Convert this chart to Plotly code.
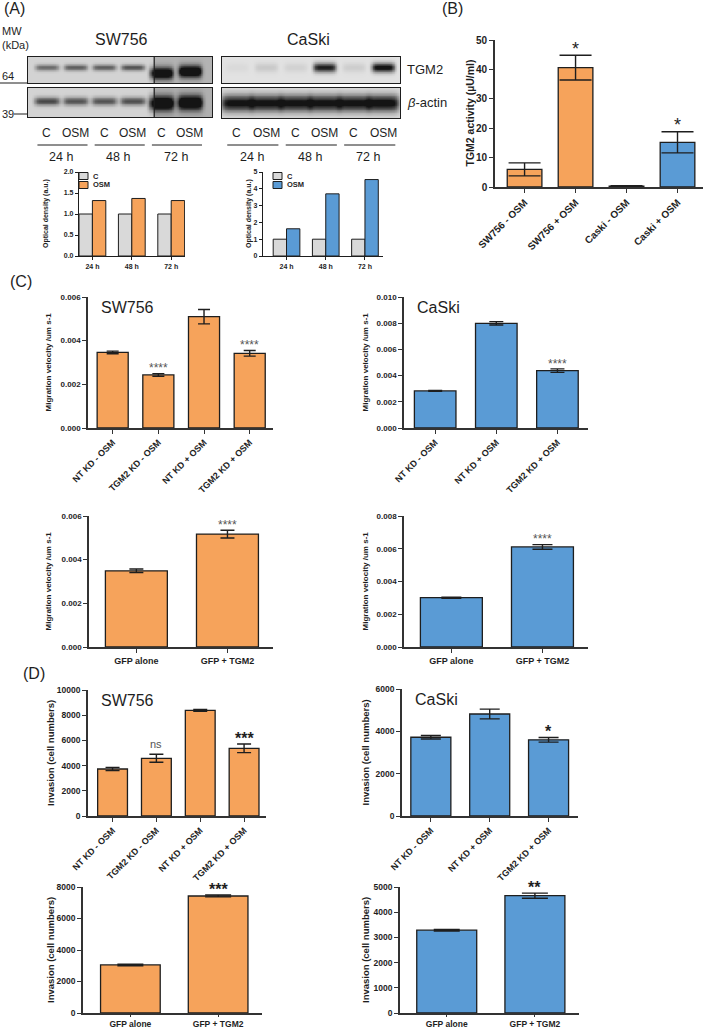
import numpy as np
import plotly.graph_objects as go

W, H = 704, 1029
ORANGE = "#F6A35B"
BLUE = "#5A9BD5"
GREY = "#D9D9D9"
INK = "#1E1E1E"
SOFT = "#555555"
FONT = "Liberation Sans, Arial, sans-serif"

# ---------------- data ----------------
lane_labels = ["C", "OSM", "C", "OSM", "C", "OSM"]
time_labels = ["24 h", "48 h", "72 h"]
# relative band darkness per lane (0 = blank, 1 = saturated)
sw_tgm2_band = [0.5, 0.55, 0.55, 0.6, 0.95, 1.0]
sw_actin_band = [0.65, 0.6, 0.6, 0.62, 1.0, 1.0]
ck_tgm2_band = [0.04, 0.12, 0.08, 0.9, 0.1, 1.0]
ck_actin_band = [0.95, 0.95, 0.95, 0.95, 0.95, 1.0]

od_times = ["24 h", "48 h", "72 h"]
od_sw_c = [1.0, 1.0, 1.0]
od_sw_osm = [1.32, 1.37, 1.32]
od_ck_c = [1.0, 1.0, 1.0]
od_ck_osm = [1.62, 3.7, 4.55]

act_cats = ["SW756 - OSM", "SW756 + OSM", "Caski - OSM", "Caski + OSM"]
act_vals = [6.0, 40.6, 0.3, 15.2]
act_errs = [2.2, 4.2, 0.15, 3.6]
act_sig = ["", "*", "", "*"]

kd4_cats = ["NT KD - OSM", "TGM2 KD - OSM", "NT KD + OSM", "TGM2 KD + OSM"]
kd3_cats = ["NT KD - OSM", "NT KD + OSM", "TGM2 KD + OSM"]
gfp_cats = ["GFP alone", "GFP + TGM2"]

mig_sw_kd = [0.00346, 0.00243, 0.0051, 0.00342]
mig_sw_kd_err = [0.00006, 0.00006, 0.00033, 0.00013]
mig_sw_kd_sig = ["", "****", "", "****"]
mig_ck_kd = [0.00283, 0.00799, 0.00438]
mig_ck_kd_err = [0.00003, 0.00013, 0.00013]
mig_ck_kd_sig = ["", "", "****"]
mig_sw_gfp = [0.00349, 0.00517]
mig_sw_gfp_err = [0.00008, 0.00018]
mig_sw_gfp_sig = ["", "****"]
mig_ck_gfp = [0.00301, 0.00611]
mig_ck_gfp_err = [0.00003, 0.00014]
mig_ck_gfp_sig = ["", "****"]

inv_sw_kd = [3730, 4580, 8380, 5370]
inv_sw_kd_err = [130, 320, 70, 340]
inv_sw_kd_sig = ["", "ns", "", "***"]
inv_ck_kd = [3720, 4820, 3600]
inv_ck_kd_err = [80, 230, 110]
inv_ck_kd_sig = ["", "", "*"]
inv_sw_gfp = [3050, 7430]
inv_sw_gfp_err = [50, 60]
inv_sw_gfp_sig = ["", "***"]
inv_ck_gfp = [3285, 4655]
inv_ck_gfp_err = [30, 100]
inv_ck_gfp_sig = ["", "**"]

fig = go.Figure()
annos = []
shapes = []


def names(n):
    s = "" if n == 1 else str(n)
    return "x" + s, "y" + s, "xaxis" + s, "yaxis" + s


def dx(a, b):
    return [a / W, b / W]


def dy(top, bottom):
    return [1 - bottom / H, 1 - top / H]


def text(x, y, t, size, bold=False, xanchor="center", angle=0, color=INK):
    annos.append(dict(x=x / W, y=1 - y / H, xref="paper", yref="paper", text=t, showarrow=False,
                      xanchor=xanchor, yanchor="middle", textangle=angle,
                      font=dict(family=FONT, size=size, color=color,
                                weight="bold" if bold else "normal")))


def hline(x0, x1, y, width=1):
    shapes.append(dict(type="line", xref="paper", yref="paper", x0=x0 / W, x1=x1 / W,
                       y0=1 - y / H, y1=1 - y / H, line=dict(color=INK, width=width)))


def swatch(x, y, col):
    shapes.append(dict(type="rect", xref="paper", yref="paper", x0=x / W, x1=(x + 9) / W,
                       y0=1 - (y + 3.5) / H, y1=1 - (y - 3.5) / H, fillcolor=col,
                       line=dict(color=INK, width=1)))


# ---------------- (A) western blots ----------------
def blot(n, band, xpx, ypx, span, band_y, band_h, band_w, bg, split=None, bg_split=0.0):
    xr, yr, xa, ya = names(n)
    xs = np.linspace(span[0], span[1], 260)
    ys = np.linspace(0, 1, 40)
    X, Y = np.meshgrid(xs, ys)
    Z = np.full_like(X, bg)
    if split is not None:
        Z[X > split] += bg_split
    for i, v in enumerate(band):
        Z += v * np.exp(-((X - i) / band_w[i]) ** 6) * np.exp(-((Y - band_y[i]) / band_h[i]) ** 2)
    Z = np.clip(Z, 0, 1)
    fig.add_trace(go.Heatmap(x=xs, y=ys, z=Z, xaxis=xr, yaxis=yr, zmin=0, zmax=1, zsmooth="best",
                             colorscale=[[0, "#F0F0F0"], [0.5, "#8A8A8A"], [1, "#141414"]],
                             showscale=False, hoverinfo="skip"))
    common = dict(showline=True, mirror=True, linecolor=INK, linewidth=1.2, ticks="",
                  showticklabels=False, showgrid=False, zeroline=False, fixedrange=True,
                  automargin=False)
    fig.update_layout(**{xa: dict(domain=dx(*xpx), anchor=yr, range=list(span), **common),
                         ya: dict(domain=dy(*ypx), anchor=xr, range=[0, 1], **common)})
    if split is not None:
        shapes.append(dict(type="line", xref=xr, yref=yr + " domain", x0=split, x1=split, y0=0, y1=1,
                           line=dict(color=INK, width=1.2)))


sw_span = (-0.66, 5.77)
ck_span = (-0.51, 5.58)
blot(1, sw_tgm2_band, (28, 212), (57, 83), sw_span,
     [0.6, 0.6, 0.6, 0.6, 0.38, 0.45], [0.12, 0.12, 0.12, 0.12, 0.24, 0.24],
     [0.42] * 6, 0.14, split=3.75, bg_split=0.16)
blot(2, sw_actin_band, (28, 212), (88, 117), sw_span,
     [0.55, 0.55, 0.55, 0.55, 0.48, 0.5], [0.14, 0.14, 0.14, 0.14, 0.26, 0.26],
     [0.45] * 6, 0.14, split=3.75, bg_split=0.18)
blot(3, ck_tgm2_band, (222, 400), (57, 83), ck_span,
     [0.6] * 6, [0.18] * 6, [0.4] * 6, 0.07)
blot(4, ck_actin_band, (222, 400), (88, 118), ck_span,
     [0.5] * 6, [0.28] * 6, [0.55] * 6, 0.1)

for n in (2, 4):
    xr = names(n)[0]
    for i, lab in enumerate(lane_labels):
        annos.append(dict(x=i, y=1 - 133 / H, xref=xr, yref="paper", text=lab, showarrow=False,
                          yanchor="middle", font=dict(family=FONT, size=12, color=INK)))
    for k, t in enumerate(time_labels):
        annos.append(dict(x=2 * k + 0.5, y=1 - 157 / H, xref=xr, yref="paper", text=t,
                          showarrow=False, yanchor="middle",
                          font=dict(family=FONT, size=12.5, color=INK)))
        shapes.append(dict(type="line", xref=xr, yref="paper", x0=2 * k - 0.33, x1=2 * k + 1.42,
                           y0=1 - 145 / H, y1=1 - 145 / H, line=dict(color=INK, width=1)))

text(2, 9, "(A)", 16, xanchor="left")
text(0, 31, "MW", 11, xanchor="left")
text(0, 45, "(kDa)", 11, xanchor="left")
text(0, 76, "64", 11, xanchor="left")
hline(0, 28, 83)
text(0, 114, "39", 11, xanchor="left")
hline(14, 28, 114)
text(121, 40, "SW756", 16)
text(308, 40, "CaSki", 16)
text(405, 70, "TGM2", 13, xanchor="left")
text(405, 102, "<i>β</i>-actin", 13, xanchor="left")


# ---------------- (A) densitometry ----------------
def od_panel(n, c_vals, osm_vals, color, xpx, ypx, ytop, dtick, fmt, xrange, leg_x, title_x):
    xr, yr, xa, ya = names(n)
    for name, vals, col in (("C", c_vals, GREY), ("OSM", osm_vals, color)):
        fig.add_trace(go.Bar(x=od_times, y=vals, name=name, xaxis=xr, yaxis=yr, showlegend=False,
                             marker=dict(color=col, line=dict(color=INK, width=1)), hoverinfo="skip"))
    axis = dict(showline=True, linecolor=INK, linewidth=1.2, ticks="outside", ticklen=3,
                tickcolor=INK, tickfont=dict(family=FONT, size=7, weight="bold", color=INK),
                showgrid=False, fixedrange=True, automargin=False)
    fig.update_layout(**{
        xa: dict(domain=dx(*xpx), anchor=yr, range=xrange, type="category", **axis),
        ya: dict(domain=dy(*ypx), anchor=xr, range=[0, ytop], dtick=dtick, tick0=0,
                 tickformat=fmt, zeroline=False, **axis),
    })
    # legend drawn as swatches + labels
    for k, (name, col) in enumerate((("C", GREY), ("OSM", color))):
        swatch(leg_x, 176 + 9 * k, col)
        text(leg_x + 12, 176 + 9 * k, name, 7.5, bold=True, xanchor="left")
    text(title_x, (ypx[0] + ypx[1]) / 2, "Optical density (a.u.)", 7, bold=True, angle=-90)


od_panel(5, od_sw_c, od_sw_osm, ORANGE, (79, 185), (172, 256), 2.0, 0.5, ".1f", [-0.34, 2.35],
         79, 46)
od_panel(6, od_ck_c, od_ck_osm, BLUE, (263, 383), (172, 256), 5, 1, "d", [-0.6, 2.46],
         273, 249)


# ---------------- bar panels (B, C, D) ----------------
def bar_panel(n, cats, vals, errs, sig, color, xpx, ypx, ytop, dtick, fmt, xrange,
              angle=0, tick_size=8, xlab_size=9, cap=5, sig_size=9, sig_color=SOFT, sig_bold=False,
              ytitle="", title_x=0, title_size=9, label=None, xticklen=4):
    xr, yr, xa, ya = names(n)
    fig.add_trace(go.Bar(x=cats, y=vals, xaxis=xr, yaxis=yr, showlegend=False, hoverinfo="skip",
                         marker=dict(color=color, line=dict(color=INK, width=1.3)),
                         error_y=dict(type="data", array=errs, color=INK, thickness=1.4, width=cap)))
    fig.update_layout(**{
        xa: dict(domain=dx(*xpx), anchor=yr, range=xrange, type="category", showline=True,
                 linecolor="#333333", linewidth=1.6, ticks="outside", ticklen=xticklen,
                 tickcolor="#333333", tickangle=angle, showgrid=False, fixedrange=True,
                 automargin=False,
                 tickfont=dict(family=FONT, size=xlab_size, weight="bold", color=INK)),
        ya: dict(domain=dy(*ypx), anchor=xr, range=[0, ytop], dtick=dtick, tick0=0, tickformat=fmt,
                 showline=True, linecolor="#333333", linewidth=1.6, ticks="outside", ticklen=4,
                 tickcolor="#333333", showgrid=False, zeroline=False, fixedrange=True,
                 automargin=False,
                 tickfont=dict(family=FONT, size=tick_size, weight="bold", color=INK)),
    })
    for c, v, e, s in zip(cats, vals, errs, sig):
        if s:
            plain = s == "ns"
            annos.append(dict(x=c, y=v + e, xref=xr, yref=yr, text=s, showarrow=False,
                              yanchor="bottom", yshift=2 if plain else -sig_size * 0.3,
                              font=dict(family=FONT, size=11 if plain else sig_size,
                                        color=SOFT if plain else sig_color,
                                        weight="bold" if (sig_bold and not plain) else "normal")))
    text(title_x, (ypx[0] + ypx[1]) / 2, ytitle, title_size, bold=True, angle=-90)
    if label:
        annos.append(dict(x=0.06, y=1, xref=xr + " domain", yref=yr + " domain", text=label,
                          showarrow=False, xanchor="left", yanchor="top",
                          font=dict(family=FONT, size=16, color=INK)))


# (B) TGM2 activity
text(440, 9, "(B)", 16, xanchor="left")
bar_panel(7, act_cats, act_vals, act_errs, act_sig, [ORANGE, ORANGE, BLUE, BLUE],
          (495, 703), (40, 187), 50, 10, "d", [-0.58, 3.5], angle=-45, tick_size=10,
          xlab_size=10, cap=16, sig_size=18, sig_color=INK, ytitle="TGM2 activity (µU/ml)",
          title_x=470, title_size=10.5)

# (C) migration
text(8, 281, "(C)", 16, xanchor="left")
mig_title = "Migration velocity /um s-1"
bar_panel(8, kd4_cats, mig_sw_kd, mig_sw_kd_err, mig_sw_kd_sig, ORANGE, (88, 273), (297, 428),
          0.006, 0.002, ".3f", [-0.54, 3.51], angle=-45, cap=6, sig_size=12, ytitle=mig_title,
          title_x=48, title_size=8, label="SW756")
bar_panel(9, kd3_cats, mig_ck_kd, mig_ck_kd_err, mig_ck_kd_sig, BLUE, (404, 588), (297, 428),
          0.010, 0.002, ".3f", [-0.51, 2.5], angle=-45, cap=7, sig_size=12, ytitle=mig_title,
          title_x=365, title_size=8, label="CaSki")
bar_panel(10, gfp_cats, mig_sw_gfp, mig_sw_gfp_err, mig_sw_gfp_sig, ORANGE, (89, 273), (516, 647),
          0.006, 0.002, ".3f", [-0.52, 1.5], cap=7, sig_size=12, ytitle=mig_title, title_x=48,
          title_size=8)
bar_panel(11, gfp_cats, mig_ck_gfp, mig_ck_gfp_err, mig_ck_gfp_sig, BLUE, (404, 588), (516, 647),
          0.008, 0.002, ".3f", [-0.52, 1.5], cap=10, sig_size=12, ytitle=mig_title, title_x=365,
          title_size=8)

# (D) invasion
text(21, 673, "(D)", 16, xanchor="left")
inv_title = "Invasion (cell numbers)"
bar_panel(12, kd4_cats, inv_sw_kd, inv_sw_kd_err, inv_sw_kd_sig, ORANGE, (88, 266), (690, 816),
          10000, 2000, "d", [-0.56, 3.5], angle=-45, tick_size=8.5, cap=7, sig_size=16,
          sig_color=INK, sig_bold=True, ytitle=inv_title, title_x=50, title_size=9.5,
          label="SW756")
bar_panel(13, kd3_cats, inv_ck_kd, inv_ck_kd_err, inv_ck_kd_sig, BLUE, (402, 578), (689, 816),
          6000, 2000, "d", [-0.49, 2.5], angle=-45, tick_size=8.5, cap=10, sig_size=16,
          sig_color=INK, sig_bold=True, ytitle=inv_title, title_x=365, title_size=9.5,
          label="CaSki")
bar_panel(14, gfp_cats, inv_sw_gfp, inv_sw_gfp_err, inv_sw_gfp_sig, ORANGE, (83, 262), (887, 1013),
          8000, 2000, "d", [-0.54, 1.5], tick_size=8.5, xlab_size=8.5, cap=13, sig_size=16,
          sig_color=INK, sig_bold=True, ytitle=inv_title, title_x=50, title_size=9.5, xticklen=2)
bar_panel(15, gfp_cats, inv_ck_gfp, inv_ck_gfp_err, inv_ck_gfp_sig, BLUE, (400, 579), (887, 1013),
          5000, 1000, "d", [-0.53, 1.5], tick_size=8.5, xlab_size=8.5, cap=13, sig_size=16,
          sig_color=INK, sig_bold=True, ytitle=inv_title, title_x=365, title_size=9.5, xticklen=2)

fig.update_layout(width=W, height=H, margin=dict(l=0, r=0, t=0, b=0, autoexpand=False),
                  paper_bgcolor="white", plot_bgcolor="rgba(0,0,0,0)", showlegend=False,
                  barmode="group", bargap=0.32, bargroupgap=0,
                  font=dict(family=FONT, color=INK), annotations=annos, shapes=shapes)
# the page body's default 8px margin would push the figure off the window
fig.write_html("out.html", config={"displayModeBar": False},
               post_script="document.body.style.margin='0';")
